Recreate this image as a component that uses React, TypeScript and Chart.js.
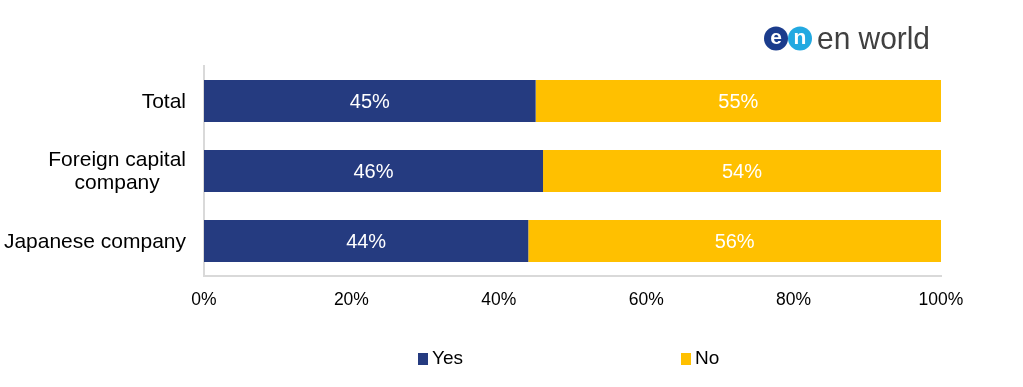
import React, { useEffect, useRef } from "react";
import { Chart, registerables } from "chart.js";

Chart.register(...registerables);

const categories: string[][] = [["Total"], ["Foreign capital", "company"], ["Japanese company"]];
const yesValues: number[] = [45, 46, 44];
const noValues: number[] = [55, 54, 56];
const xTicks: number[] = [0, 20, 40, 60, 80, 100];
const seriesNames: string[] = ["Yes", "No"];

const YES_COLOR = "#253B80";
const NO_COLOR = "#FFC000";
const AXIS_COLOR = "#D9D9D9";
const FONT = "'Liberation Sans', Arial, sans-serif";

const overlayPlugin = {
  id: "overlay",
  afterDraw(chart: any) {
    const ctx = chart.ctx as CanvasRenderingContext2D;
    const yScale = chart.scales.y;
    const area = chart.chartArea;
    ctx.save();

    // category labels (block right-aligned, lines centered)
    ctx.font = `21px ${FONT}`;
    ctx.fillStyle = "#000";
    ctx.textBaseline = "middle";
    ctx.textAlign = "center";
    const lineH = 23;
    categories.forEach((lines, i) => {
      const cy = yScale.getPixelForValue(i);
      const blockW = Math.max(...lines.map((l) => ctx.measureText(l).width));
      const right = area.left - 18;
      const cx = right - blockW / 2;
      const startY = cy - ((lines.length - 1) * lineH) / 2;
      lines.forEach((l, j) => ctx.fillText(l, cx, startY + j * lineH + 1));
    });

    // data labels
    ctx.font = `20px ${FONT}`;
    ctx.fillStyle = "#FFFFFF";
    chart.data.datasets.forEach((ds: any, di: number) => {
      const meta = chart.getDatasetMeta(di);
      meta.data.forEach((bar: any, i: number) => {
        const p = bar.getProps(["x", "y", "base"], true);
        const cx = (p.x + p.base) / 2;
        ctx.fillText(`${ds.data[i]}%`, cx, p.y + 1);
      });
    });

    // legend
    ctx.font = `19px ${FONT}`;
    ctx.textAlign = "left";
    const legendX = [418, 681];
    const colors = [YES_COLOR, NO_COLOR];
    seriesNames.forEach((name, i) => {
      ctx.fillStyle = colors[i];
      ctx.fillRect(legendX[i], 353, 10, 12);
      ctx.fillStyle = "#000";
      ctx.fillText(name, legendX[i] + 14, 359);
    });

    // logo
    ctx.fillStyle = "#1B3C8C";
    ctx.beginPath();
    ctx.arc(776, 38.5, 12, 0, Math.PI * 2);
    ctx.fill();
    ctx.fillStyle = "#22A9E1";
    ctx.beginPath();
    ctx.arc(800, 38.5, 12, 0, Math.PI * 2);
    ctx.fill();
    ctx.fillStyle = "#FFFFFF";
    ctx.font = `bold 21px ${FONT}`;
    ctx.textAlign = "center";
    ctx.fillText("e", 776, 38);
    ctx.fillText("n", 800, 38);
    ctx.fillStyle = "#404040";
    ctx.font = `32px ${FONT}`;
    ctx.textAlign = "left";
    ctx.textBaseline = "alphabetic";
    const w = ctx.measureText("en world").width;
    ctx.translate(817, 49);
    ctx.scale(113 / w, 1);
    ctx.fillText("en world", 0, 0);

    ctx.restore();
  },
};

export default function App() {
  const canvasRef = useRef<HTMLCanvasElement | null>(null);

  useEffect(() => {
    if (!canvasRef.current) return;
    const chart = new Chart(canvasRef.current, {
      type: "bar",
      data: {
        labels: categories.map((c) => c.join(" ")),
        datasets: [
          {
            label: seriesNames[0],
            data: yesValues,
            backgroundColor: YES_COLOR,
            barPercentage: 0.6,
            categoryPercentage: 1,
          },
          {
            label: seriesNames[1],
            data: noValues,
            backgroundColor: NO_COLOR,
            barPercentage: 0.6,
            categoryPercentage: 1,
          },
        ],
      },
      options: {
        indexAxis: "y",
        animation: false,
        responsive: true,
        maintainAspectRatio: false,
        layout: { padding: { top: 66, right: 82, left: 0, bottom: 0 } },
        plugins: {
          legend: { display: false },
          tooltip: { enabled: false },
        },
        scales: {
          x: {
            stacked: true,
            min: 0,
            max: 100,
            afterBuildTicks: (scale: any) => {
              scale.ticks = xTicks.map((v) => ({ value: v }));
            },
            afterFit: (scale: any) => {
              scale.height = 111;
            },
            grid: { display: false, drawTicks: false },
            border: { color: AXIS_COLOR, width: 2 },
            ticks: {
              padding: 14,
              color: "#000",
              font: { family: FONT, size: 17.5 },
              callback: (v: any) => `${v}%`,
            },
          },
          y: {
            stacked: true,
            afterFit: (scale: any) => {
              scale.width = 204;
            },
            grid: { display: false, drawTicks: false },
            border: { color: AXIS_COLOR, width: 2 },
            ticks: { display: false },
          },
        },
      },
      plugins: [overlayPlugin],
    });
    return () => chart.destroy();
  }, []);

  return (
    <div style={{ position: "fixed", left: 0, top: 0, width: 1023, height: 387, background: "#fff" }}>
      <canvas ref={canvasRef} />
    </div>
  );
}
